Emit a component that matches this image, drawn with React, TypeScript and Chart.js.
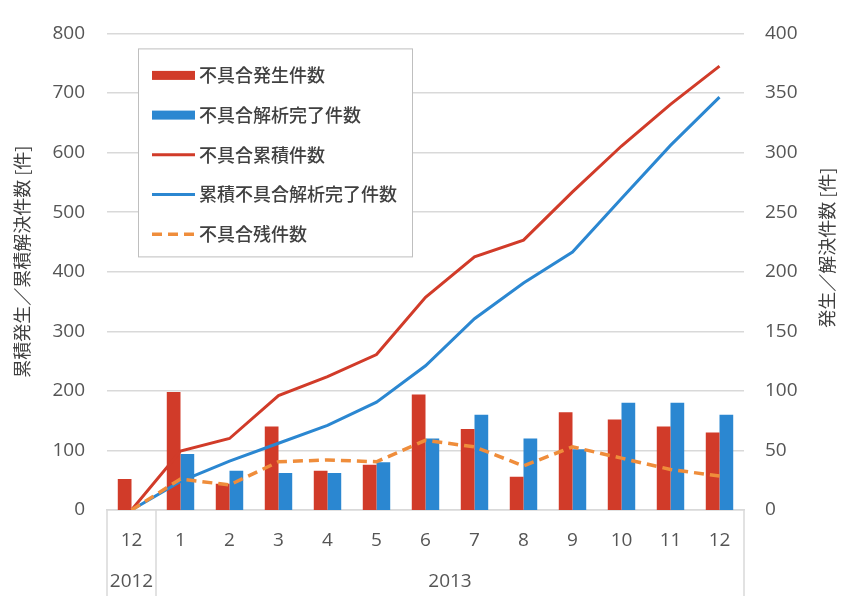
import React, { useEffect, useRef } from "react";
import { Chart, registerables } from "chart.js";
Chart.register(...registerables);

const months = ["12", "1", "2", "3", "4", "5", "6", "7", "8", "9", "10", "11", "12"];
const years = ["2012", "2013"];
const yearSpans = [1, 12];
const occurred = [26, 99, 22, 70, 33, 38, 97, 68, 28, 82, 76, 70, 65];
const resolved = [0, 47, 33, 31, 31, 40, 60, 80, 60, 51, 90, 90, 80];
const cumOccurred = [0, 99, 120, 192, 224, 261, 357, 425, 453, 534, 611, 681, 745];
const cumResolved = [0, 48, 82, 112, 142, 181, 242, 321, 381, 433, 523, 612, 693];
const remaining = [0, 52, 42, 81, 84, 81, 117, 106, 74, 106, 87, 68, 57];
const seriesNames = ["不具合発生件数", "不具合解析完了件数", "不具合累積件数", "累積不具合解析完了件数", "不具合残件数"];
const leftTitle = "累積発生／累積解決件数 [件]";
const rightTitle = "発生／解決件数 [件]";
const leftMax = 800, leftStep = 100, rightMax = 400, rightStep = 50;

const RED = "#d13b29";
const BLUE = "#2b87d1";
const ORANGE = "#ef8d3b";
const GRID = "#d9d9d9";
const TXT = "#555555";
const NUM_FONT = "'Open Sans', 'Noto Sans CJK JP', sans-serif";
const CJK_FONT = "'Noto Sans CJK JP', 'Open Sans', sans-serif";

const decorPlugin = {
  id: "decor",
  afterDraw(chart: any) {
    const { ctx, chartArea, scales } = chart;
    const x = scales.x;
    const n = months.length;
    const cw = (x.right - x.left) / n;
    ctx.save();
    ctx.strokeStyle = GRID;
    ctx.lineWidth = 1.5;
    let start = 0;
    const bounds: number[] = [x.left];
    yearSpans.forEach((span, i) => {
      const l = x.getPixelForValue(start) - cw / 2;
      const r = x.getPixelForValue(start + span - 1) + cw / 2;
      bounds.push(r);
      ctx.fillStyle = TXT;
      ctx.font = `19px ${NUM_FONT}`;
      ctx.textAlign = "center";
      ctx.textBaseline = "middle";
      ctx.fillText(years[i], (l + r) / 2, chartArea.bottom + 72);
      start += span;
    });
    bounds.forEach((b) => {
      ctx.beginPath();
      ctx.moveTo(b, chartArea.bottom);
      ctx.lineTo(b, chartArea.bottom + 86);
      ctx.stroke();
    });
    ctx.fillStyle = "#404040";
    ctx.font = `18px ${CJK_FONT}`;
    ctx.textAlign = "center";
    ctx.textBaseline = "middle";
    const midY = (chartArea.top + chartArea.bottom) / 2;
    ctx.save();
    ctx.translate(22, midY - 10);
    ctx.rotate(-Math.PI / 2);
    ctx.fillText(leftTitle, 0, 0);
    ctx.restore();
    ctx.save();
    ctx.translate(chart.width - 15, midY - 24);
    ctx.rotate(-Math.PI / 2);
    ctx.fillText(rightTitle, 0, 0);
    ctx.restore();
    ctx.restore();
  },
  afterDatasetsDraw(chart: any) {
    const { ctx, chartArea } = chart;
    const bx = chartArea.left + 31, by = chartArea.top + 15, bw = 274, bh = 208;
    ctx.save();
    ctx.fillStyle = "#ffffff";
    ctx.fillRect(bx, by, bw, bh);
    ctx.strokeStyle = "#bfbfbf";
    ctx.lineWidth = 1;
    ctx.strokeRect(bx + 0.5, by + 0.5, bw, bh);
    chart.data.datasets.forEach((ds: any, i: number) => {
      const cy = by + 27 + i * 39.7;
      const sx = bx + 14, sw = 43;
      if (ds.type === "bar") {
        ctx.fillStyle = ds.backgroundColor;
        ctx.fillRect(sx, cy - 4.5, sw, 9);
      } else {
        ctx.strokeStyle = ds.borderColor;
        ctx.lineWidth = ds.borderWidth;
        ctx.setLineDash(ds.borderDash || []);
        ctx.beginPath();
        ctx.moveTo(sx, cy);
        ctx.lineTo(sx + sw, cy);
        ctx.stroke();
        ctx.setLineDash([]);
      }
      ctx.fillStyle = "#404040";
      ctx.font = `500 18px ${CJK_FONT}`;
      ctx.textAlign = "left";
      ctx.textBaseline = "middle";
      ctx.fillText(ds.label, sx + sw + 4, cy);
    });
    ctx.restore();
  },
};

export default function App() {
  const ref = useRef<HTMLCanvasElement>(null);
  useEffect(() => {
    document.body.style.margin = "0";
    const chart = new Chart(ref.current!, {
      type: "bar",
      data: {
        labels: months,
        datasets: [
          { type: "bar", label: seriesNames[0], data: occurred, backgroundColor: RED, yAxisID: "y1", order: 2 },
          { type: "bar", label: seriesNames[1], data: resolved, backgroundColor: BLUE, yAxisID: "y1", order: 2 },
          { type: "line", label: seriesNames[2], data: cumOccurred, borderColor: RED, backgroundColor: RED, borderWidth: 3, pointRadius: 0, yAxisID: "y", order: 1, tension: 0 },
          { type: "line", label: seriesNames[3], data: cumResolved, borderColor: BLUE, backgroundColor: BLUE, borderWidth: 3, pointRadius: 0, yAxisID: "y", order: 1, tension: 0 },
          { type: "line", label: seriesNames[4], data: remaining, borderColor: ORANGE, backgroundColor: ORANGE, borderWidth: 3.5, borderDash: [10, 6], pointRadius: 0, yAxisID: "y", order: 0, tension: 0 },
        ] as any,
      },
      options: {
        animation: false,
        responsive: false,
        layout: { padding: { top: 32, left: 0, right: 0, bottom: 0 } },
        datasets: { bar: { categoryPercentage: 0.56, barPercentage: 1.0 } },
        plugins: { legend: { display: false }, tooltip: { enabled: false } },
        scales: {
          x: {
            type: "category",
            offset: true,
            grid: { display: false, drawTicks: false },
            border: { display: true, color: GRID, width: 1.5 },
            ticks: { color: TXT, font: { size: 19, family: NUM_FONT }, padding: 19, maxRotation: 0, autoSkip: false },
            afterFit: (s: any) => { s.height = 89; },
          },
          y: {
            position: "left",
            min: 0,
            max: leftMax,
            ticks: { stepSize: leftStep, color: TXT, font: { size: 19, family: NUM_FONT }, padding: 22 },
            grid: { color: GRID, lineWidth: 1.5, drawTicks: false },
            border: { display: false },
            afterFit: (s: any) => { s.width = 107; },
          },
          y1: {
            position: "right",
            min: 0,
            max: rightMax,
            ticks: { stepSize: rightStep, color: TXT, font: { size: 19, family: NUM_FONT }, padding: 21 },
            grid: { display: false, drawTicks: false },
            border: { display: false },
            afterFit: (s: any) => { s.width = 98; },
          },
        },
      } as any,
      plugins: [decorPlugin],
    });
    return () => chart.destroy();
  }, []);
  return (
    <div style={{ width: 842, height: 599 }}>
      <canvas ref={ref} width={842} height={599} />
    </div>
  );
}
